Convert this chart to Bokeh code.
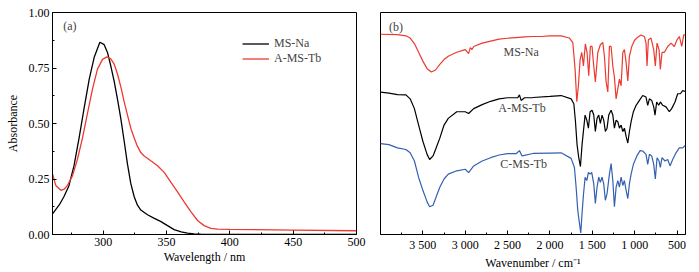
from bokeh.plotting import figure
from bokeh.models import Range1d, FixedTicker, Label, NumeralTickFormatter
from bokeh.layouts import row
from bokeh.embed import file_html
from bokeh.resources import INLINE

# ---------------- (a) UV-Vis data ----------------
wl_na = [260, 265.3, 269, 273, 277, 281, 285, 289, 293, 297.4, 300.8, 303.4, 306, 308.7,
         311.3, 314, 316.6, 319.2, 321.8, 324.5, 327, 329.7, 335, 340, 345.3, 350.8, 356,
         361.6, 366.6, 371.8, 377, 390, 420, 460, 500]
abs_na = [0.093, 0.133, 0.17, 0.22, 0.31, 0.435, 0.57, 0.70, 0.80, 0.866, 0.855, 0.82, 0.76,
          0.69, 0.61, 0.52, 0.42, 0.317, 0.23, 0.17, 0.133, 0.11, 0.089, 0.074, 0.059, 0.04,
          0.022, 0.012, 0.006, 0.003, 0.0015, 0.001, 0.001, 0.001, 0.001]

wl_tb = [260, 262.6, 266.6, 269.2, 271.8, 275.8, 279.7, 283.7, 287.6, 291.6, 295.5, 299.5,
         302.9, 306, 308.7, 311.3, 314, 316.6, 319.2, 321.8, 324.5, 327, 329.7, 332.4, 337.6,
         342.9, 348.2, 353.4, 358.7, 363.9, 369.2, 374.5, 379.7, 385, 390.3, 400, 450, 500]
abs_tb = [0.273, 0.221, 0.199, 0.204, 0.221, 0.265, 0.339, 0.435, 0.546, 0.656, 0.745, 0.789,
          0.80, 0.791, 0.767, 0.723, 0.664, 0.597, 0.538, 0.479, 0.435, 0.398, 0.369, 0.354,
          0.332, 0.31, 0.28, 0.236, 0.192, 0.147, 0.103, 0.063, 0.04, 0.028, 0.024, 0.023,
          0.02, 0.017]

uv_xticks = [300, 350, 400, 450, 500]
uv_xminor = [275, 325, 375, 425, 475]
uv_yticks = [0, 0.25, 0.5, 0.75, 1.0]
uv_yminor = [0.125, 0.375, 0.625, 0.875]

# ---------------- (b) FTIR data (offset traces, a.u.) ----------------
wn_na = [4000, 3800, 3700, 3650, 3600, 3550, 3500, 3450, 3400, 3350, 3300, 3250, 3200, 3100,
         3000, 2960, 2940, 2920, 2900, 2800, 2700, 2600, 2500, 2400, 2300, 2200, 2100, 2000,
         1868, 1770, 1730, 1703, 1683, 1664, 1644, 1624, 1605, 1582, 1562, 1542, 1523, 1503,
         1487, 1464, 1435, 1405, 1376, 1357, 1337, 1317, 1298, 1278, 1258, 1239, 1219, 1199,
         1180, 1160, 1140, 1121, 1101, 1081, 1062, 1034, 1003, 964, 925, 885, 866, 854, 838,
         807, 775, 756, 736, 712, 697, 677, 650, 610, 571, 532, 500, 473, 444, 421, 400]
t_na = [90.2, 90.0, 89.5, 88.5, 86.0, 82.1, 78.1, 74.7, 73.2, 74.1, 76.6, 78.8, 80.3, 82.1,
        83.3, 81.5, 84.2, 83.3, 84.7, 86.2, 87.1, 88.0, 88.4, 88.7, 89.0, 89.2, 89.2, 89.5,
        89.5, 88.5, 86.4, 74.4, 59.8, 67.0, 78.8, 82.0, 75.9, 85.9, 82.0, 71.5, 84.7, 84.7,
        77.5, 68.7, 82.0, 85.5, 86.5, 80.3, 68.7, 64.2, 84.7, 84.7, 75.9, 70.9, 61.1, 65.6,
        70.0, 67.0, 82.0, 83.3, 77.5, 69.2, 80.3, 84.7, 87.4, 88.9, 89.9, 89.2, 86.2, 75.9,
        87.7, 88.5, 83.3, 75.9, 86.2, 83.3, 74.4, 82.0, 82.0, 84.7, 86.2, 84.7, 87.7, 89.2,
        84.7, 89.9, 89.9]

wn_a = [4000, 3900, 3800, 3700, 3650, 3600, 3550, 3500, 3450, 3420, 3380, 3350, 3300, 3250,
        3200, 3100, 3000, 2960, 2900, 2800, 2700, 2600, 2500, 2380, 2360, 2340, 2300, 2200,
        2000, 1868, 1750, 1718, 1699, 1680, 1660, 1640, 1621, 1601, 1585, 1565, 1546, 1526,
        1503, 1483, 1464, 1444, 1424, 1405, 1385, 1365, 1346, 1326, 1306, 1278, 1258, 1239,
        1219, 1199, 1180, 1160, 1140, 1121, 1101, 1081, 1062, 1042, 1015, 983, 944, 905, 866,
        846, 826, 799, 775, 760, 740, 716, 697, 669, 630, 591, 563, 524, 492, 461, 433, 400]
t_a = [64.1, 63.7, 63.0, 62.9, 61.1, 56.7, 49.3, 42.0, 36.1, 33.8, 35.4, 38.3, 43.4, 49.3,
       52.3, 55.3, 55.3, 54.5, 56.7, 58.5, 60.0, 61.1, 61.6, 61.6, 62.9, 60.4, 61.6, 61.7,
       62.2, 62.6, 61.1, 58.9, 51.0, 40.5, 34.6, 30.6, 40.5, 47.9, 53.8, 51.5, 47.9, 55.3,
       56.0, 53.8, 46.4, 52.3, 53.8, 50.1, 53.8, 51.5, 46.4, 47.9, 53.8, 56.0, 53.8, 47.9,
       51.5, 50.8, 47.9, 49.3, 46.4, 47.9, 44.2, 41.2, 46.4, 50.8, 55.3, 58.2, 60.4, 62.6,
       61.9, 58.2, 61.1, 60.4, 57.5, 53.8, 59.7, 58.2, 59.7, 58.2, 57.5, 55.3, 56.7, 59.7,
       63.4, 63.4, 64.8, 64.4]

wn_c = [4000, 3900, 3800, 3700, 3650, 3600, 3550, 3500, 3450, 3420, 3380, 3350, 3300, 3250,
        3200, 3100, 3000, 2960, 2900, 2800, 2700, 2600, 2500, 2400, 2360, 2330, 2200, 2000,
        1868, 1750, 1711, 1691, 1672, 1652, 1636, 1621, 1605, 1585, 1565, 1546, 1526, 1507,
        1483, 1464, 1444, 1424, 1405, 1385, 1365, 1346, 1326, 1298, 1278, 1258, 1239, 1219,
        1199, 1180, 1160, 1140, 1121, 1101, 1081, 1062, 1042, 1015, 974, 936, 905, 866, 846,
        826, 799, 775, 756, 736, 712, 697, 677, 642, 610, 583, 551, 512, 473, 433, 400]
t_c = [40.9, 40.5, 39.0, 38.3, 36.8, 33.1, 25.7, 19.9, 14.7, 12.5, 13.2, 16.2, 21.3, 25.0,
       27.2, 28.7, 29.4, 27.9, 30.9, 33.1, 34.6, 35.8, 36.4, 36.4, 37.8, 35.4, 36.5, 36.7,
       36.8, 34.3, 30.2, 21.3, 11.0, 5.1, 0.7, 9.5, 17.7, 25.8, 24.3, 28.0, 27.2, 28.0,
       22.8, 14.0, 21.3, 25.8, 23.5, 25.8, 22.8, 15.4, 18.4, 27.2, 31.9, 24.3, 12.5, 21.3,
       24.3, 21.3, 25.8, 22.1, 24.3, 19.9, 16.2, 22.8, 27.2, 31.6, 35.4, 37.8, 37.6, 36.1,
       31.6, 36.1, 35.4, 31.6, 25.0, 34.6, 33.1, 30.2, 34.6, 33.1, 33.8, 30.9, 33.8, 36.8,
       39.0, 39.0, 40.2]

ir_xticks = [3500, 3000, 2500, 2000, 1500, 1000, 500]
ir_xlabels = ["3 500", "3 000", "2 500", "2 000", "1 500", "1 000", "500"]
ir_xminor = [3750, 3250, 2750, 2250, 1750, 1250, 750]

FONT = "Liberation Serif"
RED = "#ec3a30"
BLUE = "#3460b0"


def style_axes(p):
    p.grid.visible = False
    p.outline_line_color = "black"
    p.outline_line_width = 1
    p.background_fill_color = "white"
    p.border_fill_color = "white"
    for ax in p.xaxis + p.yaxis:
        ax.major_tick_in = 4
        ax.major_tick_out = 0
        ax.minor_tick_in = 2
        ax.minor_tick_out = 0
        ax.axis_line_color = "black"
        ax.major_label_text_font = FONT
        ax.major_label_text_font_size = "12px"
        ax.major_label_text_color = "black"
        ax.axis_label_text_font = FONT
        ax.axis_label_text_font_size = "12px"
        ax.axis_label_text_font_style = "normal"
        ax.axis_label_text_color = "black"
        ax.major_label_standoff = 3


# ---------------- panel (a) ----------------
p1 = figure(width=366, height=272, x_range=Range1d(260, 500), y_range=Range1d(0, 1.0),
            output_backend="svg", toolbar_location=None,
            min_border_left=52, min_border_right=10, min_border_top=12, min_border_bottom=34)
p1.line(wl_na, abs_na, line_color="black", line_width=1.3, legend_label="MS-Na")
p1.line(wl_tb, abs_tb, line_color=RED, line_width=1.3, legend_label="A-MS-Tb")
style_axes(p1)
p1.xaxis.ticker = FixedTicker(ticks=uv_xticks, minor_ticks=uv_xminor)
p1.yaxis.ticker = FixedTicker(ticks=uv_yticks, minor_ticks=uv_yminor)
p1.yaxis.formatter = NumeralTickFormatter(format="0.00")
p1.xaxis.axis_label = "Wavelength / nm"
p1.yaxis.axis_label = "Absorbance"
p1.xaxis.axis_label_standoff = 1
p1.yaxis.axis_label_standoff = 6
p1.add_layout(Label(x=268.5, y=0.94, text="(a)", text_font=FONT, text_font_size="12px",
                    text_baseline="middle", text_align="left"))
lg = p1.legend[0]
lg.location = (190, 168)
lg.border_line_color = None
lg.background_fill_alpha = 0
lg.padding = 0
lg.margin = 0
lg.spacing = 0
lg.glyph_width = 27
lg.glyph_height = 15
lg.label_height = 15
lg.label_standoff = 5
lg.label_text_font = FONT
lg.label_text_font_size = "12px"

# ---------------- panel (b) ----------------
p2 = figure(width=333, height=272, x_range=Range1d(4000, 400), y_range=Range1d(0, 100),
            output_backend="svg", toolbar_location=None,
            min_border_left=14, min_border_right=14, min_border_top=12, min_border_bottom=34)
p2.line(wn_na, t_na, line_color=RED, line_width=1.2)
p2.line(wn_a, t_a, line_color="black", line_width=1.2)
p2.line(wn_c, t_c, line_color=BLUE, line_width=1.2)
style_axes(p2)
p2.yaxis.visible = False
p2.xaxis.ticker = FixedTicker(ticks=ir_xticks, minor_ticks=ir_xminor)
p2.xaxis.major_label_overrides = dict(zip(ir_xticks, ir_xlabels))
p2.xaxis.axis_label = "Wavenumber / cm\u207b\u00b9"
p2.xaxis.axis_label_standoff = 1
for txt, xx, yy in [("MS-Na", 2340, 82.4), ("A-MS-Tb", 2330, 56.8), ("C-MS-Tb", 2310, 31.7)]:
    p2.add_layout(Label(x=xx, y=yy, text=txt, text_font=FONT, text_font_size="12px",
                        text_align="center", text_baseline="middle"))
p2.add_layout(Label(x=3900, y=93.6, text="(b)", text_font=FONT, text_font_size="12px",
                    text_align="left", text_baseline="middle"))

layout = row(p1, p2)
open("out.html", "w").write(file_html(layout, INLINE))
